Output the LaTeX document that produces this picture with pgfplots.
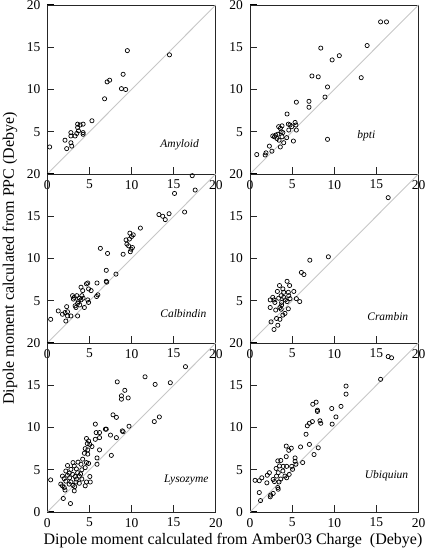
\documentclass[border=0pt]{standalone}
\usepackage{fontspec}
\setmainfont{Liberation Serif}
\usepackage{pgfplots}
\pgfplotsset{compat=1.18}
\pgfplotsset{
  panel/.style={
    width=168.5pt, height=169pt, scale only axis,
    xmin=0, xmax=20, ymin=0, ymax=20,
    axis line style={black!85, line width=0.9pt},
    major tick style={black, line width=1pt},
    major tick length=7pt,
    xtick align=inside, ytick align=inside,
    xtick pos=left, ytick pos=left,
    xtick={0,5,10,15,20},
    ytick={5,10,15,20},
    xticklabel={\pgfmathprintnumber[assume math mode=true]{\tick}},
    yticklabel={\pgfmathprintnumber[assume math mode=true]{\tick}},
    tick label style={font=\rmfamily\fontsize{13.5}{13.5}\selectfont},
    xticklabel style={yshift=-2.5pt},
    yticklabel style={xshift=-3.5pt},
    clip mode=individual,
  },
  pts/.style={only marks, mark=o, mark size=2.1pt, black, line width=0.7pt},
  diag/.style={black!22, line width=0.9pt, no marks},
}
\tikzset{lab/.style={anchor=east, font=\itshape\fontsize{11.5}{11.5}\selectfont},
  tk/.style={black!85, line width=1pt}}
\newcommand{\panelticks}{%
  \pgfplotsinvokeforeach{5,10,15}{%
    \draw[tk] (axis cs:##1,0) -- ++(0pt,7pt);
    \draw[tk] (axis cs:0,##1) -- ++(7pt,0pt);
  }%
}
\begin{document}
\begin{tikzpicture}
\path[use as bounding box] (0,0) rectangle (426pt,553pt);
% ---------------- top row ----------------
\begin{axis}[panel, at={(47.3pt,379pt)}, anchor=south west]
\addplot[diag] coordinates {(0,0) (20,20)};
\addplot[pts] coordinates {
(0.28,3.2) (2.1,4.0) (2.3,3.0) (2.8,4.9) (2.8,4.5) (2.8,3.7) (2.9,3.3)
(3.3,4.5) (3.5,4.8) (3.6,5.9) (3.6,5.5) (3.7,5.1) (3.9,5.8) (4.25,5.9)
(4.25,4.9) (4.25,4.7) (5.3,6.3) (6.8,8.9) (7.1,10.9) (7.4,11.1) (8.8,10.1)
(9.0,11.8) (9.3,10.0) (9.5,14.6) (14.5,14.1)
};
\panelticks
\node[lab] at (axis cs:18.4,3.5) {Amyloid};
\end{axis}
\begin{axis}[panel, at={(250pt,379pt)}, anchor=south west]
\addplot[diag] coordinates {(0,0) (20,20)};
\addplot[pts] coordinates {
(0.8,2.3) (1.8,2.25) (1.9,2.5) (2.3,3.3) (2.6,2.7) (2.7,4.5) (2.9,4.4)
(3.05,4.6) (3.2,4.2) (3.3,4.7) (3.4,5.6) (3.45,4.0) (3.6,3.2) (3.6,5.4)
(3.7,5.0) (3.8,5.7) (3.8,4.4) (3.9,4.9) (4.0,3.7) (4.35,4.3) (4.4,7.1)
(4.55,5.9) (4.6,5.2) (4.75,5.8) (4.95,5.6) (5.15,3.9) (5.35,6.1) (5.45,5.8)
(5.5,5.2) (5.5,8.5) (7.0,8.6) (7.0,7.9) (7.35,11.6) (8.1,11.5) (8.4,14.9)
(8.9,9.1) (9.2,10.3) (9.2,4.1) (9.75,13.5) (10.6,14.0) (13.2,11.4)
(13.9,15.2) (15.5,18.0) (16.2,18.0)
};
\panelticks
\node[lab] at (axis cs:15.3,4.5) {bpti};
\end{axis}
% ---------------- middle row ----------------
\begin{axis}[panel, at={(47.3pt,210pt)}, anchor=south west]
\addplot[diag] coordinates {(0,0) (20,20)};
\addplot[pts] coordinates {
(0.4,2.8) (1.3,3.8) (1.8,3.4) (2.1,3.6) (2.3,4.3) (2.4,3.7) (2.4,3.2)
(2.2,2.6) (2.8,3.2) (3.0,5.6) (3.1,5.2) (3.2,5.4) (3.3,4.4) (3.4,4.2)
(3.5,5.6) (3.6,4.7) (3.6,3.2) (3.7,4.9) (3.8,5.3) (3.85,4.5) (4.0,6.6)
(4.0,5.1) (4.1,5.6) (4.2,6.2) (4.25,5.3) (4.4,4.2) (4.65,7.0) (4.8,7.1)
(4.8,5.1) (4.9,4.8) (4.9,6.4) (5.2,6.2) (5.9,7.1) (5.85,5.5) (6.0,5.7)
(6.3,11.2) (7.0,8.6) (7.0,7.3) (7.05,7.2) (7.15,10.6) (8.15,8.15)
(9.0,10.5) (9.35,12.2) (9.45,11.7) (9.65,11.5) (9.75,12.3) (9.8,13.0)
(9.85,10.8) (9.95,11.1) (10.0,12.6) (10.1,11.3) (10.2,12.8) (11.05,13.6)
(13.25,15.2) (13.7,15.0) (14.0,14.6) (14.45,15.3) (15.1,17.7) (16.3,15.5)
(17.2,19.8) (17.55,18.1)
};
\panelticks
\node[lab] at (axis cs:19.3,3.5) {Calbindin};
\end{axis}
\begin{axis}[panel, at={(250pt,210pt)}, anchor=south west]
\addplot[diag] coordinates {(0,0) (20,20)};
\addplot[pts] coordinates {
(16.4,17.2) (7.1,9.8) (9.3,10.2) (6.1,8.35) (6.4,8.1) (4.4,7.3) (4.7,6.8)
(3.5,6.8) (3.9,6.4) (3.25,6.1) (4.0,6.0) (4.55,6.0) (5.2,6.1) (3.7,5.6)
(4.6,5.6) (2.7,5.4) (2.4,5.1) (2.85,5.1) (3.4,5.3) (4.0,5.4) (4.2,5.1)
(4.75,5.25) (5.5,5.25) (2.95,4.8) (3.75,4.8) (3.75,4.5) (4.4,4.9) (5.9,4.9)
(2.4,4.2) (3.05,3.9) (3.55,4.2) (3.7,4.0) (4.55,4.05) (4.15,3.5) (3.15,2.9)
(3.55,2.8) (2.5,2.5) (3.3,2.1) (2.85,1.6) (3.9,3.3)
};
\panelticks
\node[lab] at (axis cs:19.2,3.1) {Crambin};
\end{axis}
% ---------------- bottom row ----------------
\begin{axis}[panel, at={(47.3pt,41pt)}, anchor=south west, ytick={0,5,10,15,20}]
\addplot[diag] coordinates {(0,0) (20,20)};
\addplot[pts] coordinates {
(0.4,3.8) (16.4,17.2) (11.6,16.0) (12.8,15.1) (14.6,15.3) (8.3,15.4)
(9.2,14.4) (8.8,13.75) (8.8,13.35) (9.6,13.5) (7.8,11.5) (8.2,11.2)
(5.7,10.4) (6.9,9.8) (7.0,9.8) (9.7,10.15) (12.7,10.7) (13.3,11.25)
(5.8,9.4) (6.2,9.4) (6.2,8.8) (5.7,8.6) (7.5,9.1) (8.2,8.8) (8.9,9.6)
(9.0,9.5) (4.65,8.7) (4.9,8.4) (4.75,8.1) (5.05,8.0) (6.2,7.35) (5.3,7.75)
(4.5,7.5) (4.8,7.35) (4.4,6.95) (4.8,6.85) (5.9,6.4) (7.6,6.7) (5.9,5.65)
(4.2,6.25) (3.65,5.9) (3.05,5.85) (2.4,5.5) (3.2,5.45) (4.0,5.65) (4.65,5.85)
(4.9,5.75) (5.05,4.2) (5.1,3.55) (4.65,3.55) (4.5,3.1) (4.1,3.9) (3.45,5.1)
(2.8,5.05) (2.2,4.85) (2.6,4.6) (3.0,4.45) (3.6,4.65) (4.1,5.0) (4.5,5.25)
(2.4,4.35) (1.8,4.25) (2.0,3.95) (2.65,4.05) (3.3,4.2) (3.8,4.25) (2.2,3.65)
(2.8,3.55) (1.6,3.3) (1.8,3.1) (2.0,2.9) (2.1,2.6) (2.6,3.3) (3.05,3.15)
(3.4,3.55) (3.25,3.0) (3.2,2.5) (3.8,3.4) (1.9,1.6) (2.75,1.0) (3.45,3.9)
(3.95,4.5)
};
\panelticks
\node[lab] at (axis cs:19.55,3.75) {Lysozyme};
\end{axis}
\begin{axis}[panel, at={(250pt,41pt)}, anchor=south west, ytick={0,5,10,15,20}]
\addplot[diag] coordinates {(0,0) (20,20)};
\addplot[pts] coordinates {
(16.4,18.4) (16.8,18.25) (15.5,15.7) (11.4,14.9) (11.4,13.95) (7.85,13.0)
(7.45,12.75) (8.0,12.05) (8.0,11.9) (9.7,12.25) (10.8,12.5) (10.2,11.25)
(7.4,10.7) (7.05,10.5) (6.8,10.2) (8.3,10.8) (8.4,10.5) (9.75,10.4)
(6.65,9.2) (7.05,8.0) (6.0,7.7) (4.3,7.8) (4.9,7.55) (4.6,7.3) (8.1,7.6)
(7.6,6.8) (6.25,5.85) (4.3,6.55) (5.35,6.4) (3.3,6.05) (3.65,6.1) (3.5,5.45)
(3.95,5.4) (4.35,5.4) (4.95,5.4) (5.35,6.0) (5.45,5.65) (5.05,5.05)
(3.1,5.15) (3.9,4.85) (2.3,4.65) (2.05,4.35) (1.4,4.05) (0.6,3.75) (1.1,3.7)
(2.0,3.45) (3.15,4.25) (3.35,4.65) (4.15,4.25) (4.35,4.05) (2.75,3.85)
(2.9,3.6) (3.45,3.55) (3.3,2.9) (3.35,2.7) (3.65,3.9) (1.1,2.3) (2.45,2.0)
(2.75,2.2) (2.4,1.8) (1.25,1.35) (4.65,4.45)
};
\panelticks
\node[lab] at (axis cs:19.2,4.25) {Ubiquiun};
\end{axis}
% ---------------- axis titles ----------------
\node[rotate=90, font=\fontsize{16}{16}\selectfont] at (10pt,294.5pt)
  {Dipole moment calculated from PPC (Debye)};
\node[font=\fontsize{16}{16}\selectfont] at (233pt,12pt)
  {Dipole moment calculated from Amber03 Charge\ \ (Debye)};
\end{tikzpicture}
\end{document}
